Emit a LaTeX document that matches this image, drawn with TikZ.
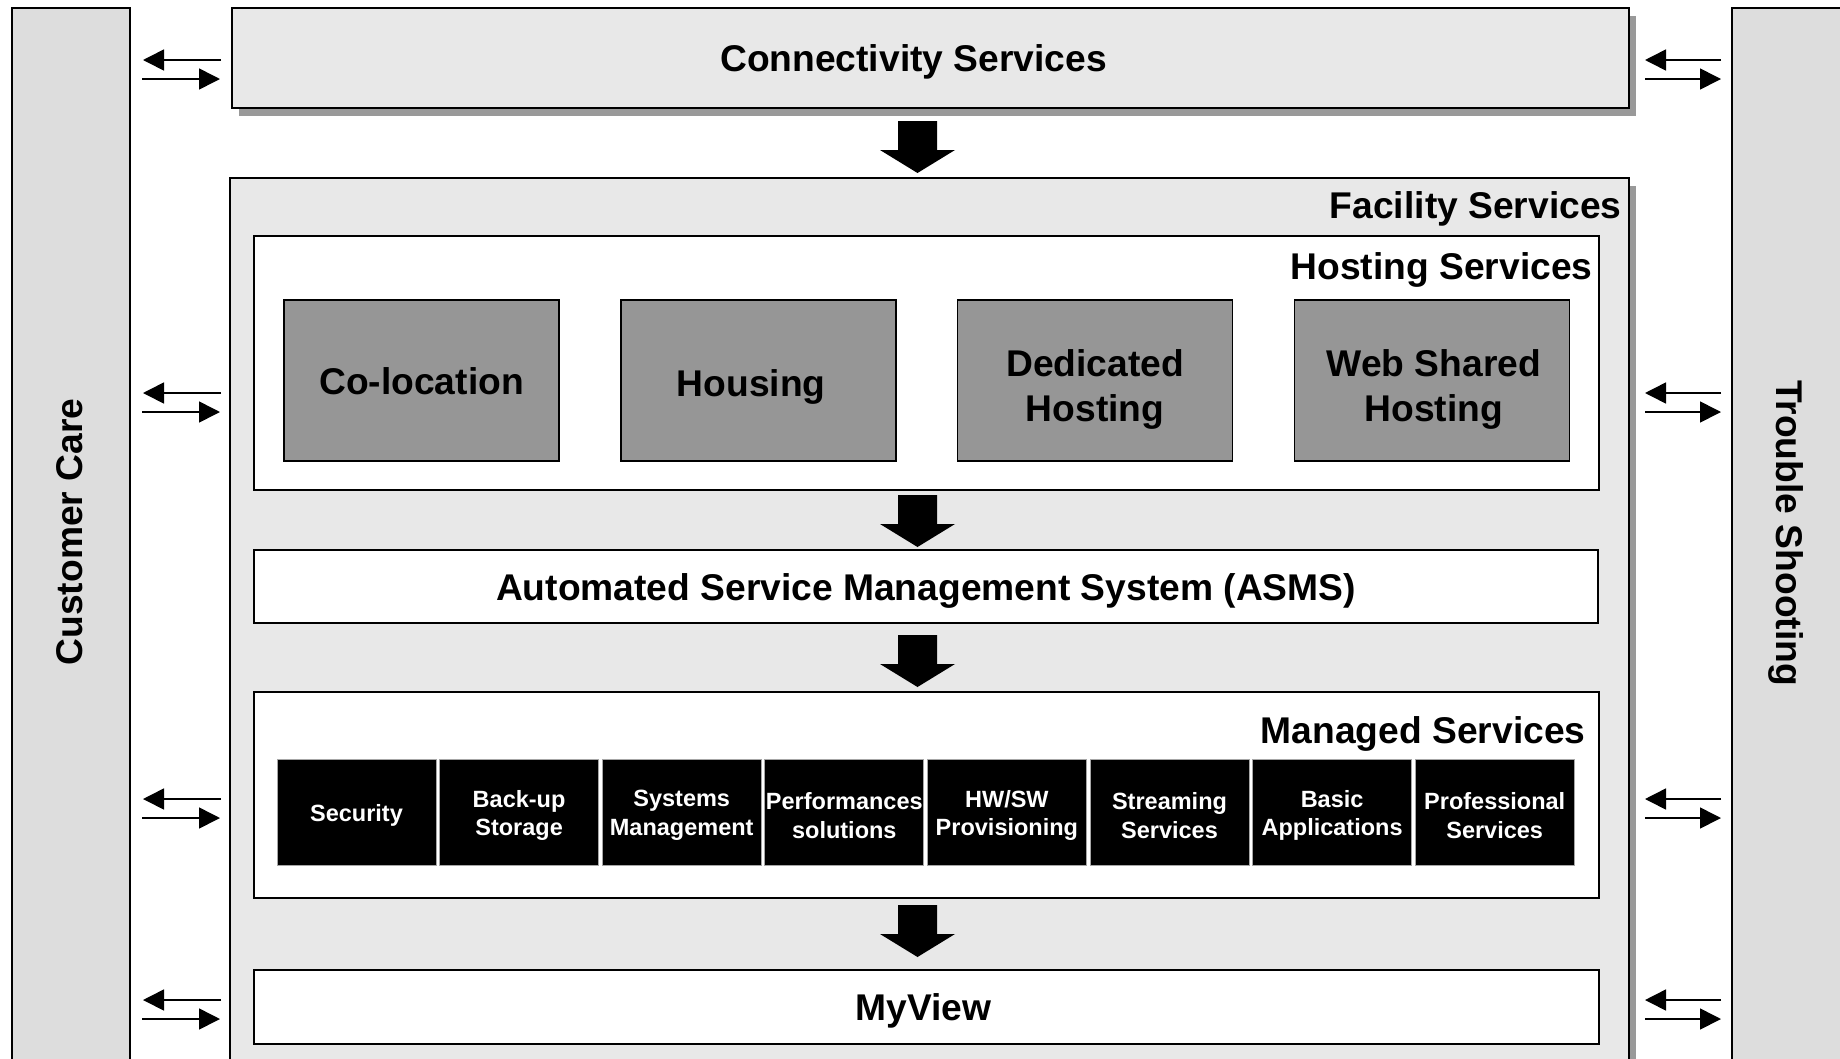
\documentclass[tikz,border=0pt]{standalone}
\usepackage{fontspec}
\setmainfont{Liberation Sans}
\usetikzlibrary{arrows.meta,shadows}
\definecolor{sidegray}{HTML}{DDDDDD}
\definecolor{panelgray}{HTML}{E8E8E8}
\definecolor{hostgray}{HTML}{969696}
\definecolor{shadegray}{HTML}{999999}

\begin{document}
\begin{tikzpicture}[x=1pt,y=-1pt,
    bigtext/.style={font=\fontsize{37.2}{44.5}\selectfont\bfseries, align=center},
    smalltext/.style={font=\fontsize{23.5}{28.5}\selectfont\bfseries, align=center},
    sidebar/.style={draw, line width=1.6pt, fill=sidegray, inner sep=0pt},
    panel/.style={draw, line width=1.6pt, fill=panelgray, inner sep=0pt,
        drop shadow={shadow xshift=7pt, shadow yshift=-8pt, fill=shadegray, opacity=1}},
    whitebox/.style={draw, line width=1.6pt, fill=white, inner sep=0pt},
    hostbox/.style={draw, line width=1.4pt, fill=hostgray,
        minimum width=275, minimum height=161, inner sep=0pt},
    mgdbox/.style={draw=gray!70, line width=0.8pt, fill=black,
        minimum width=159, minimum height=106, inner sep=0pt},
    smallarrow/.style={line width=1.6pt, -{Triangle[length=21pt,width=21pt]}}]
    \clip (0,0) rectangle (1840,1058);

    % side bars
    \node[sidebar, minimum width=118, minimum height=1062] (custcare) at (71,539) {};
    \node[bigtext, rotate=90] at (70,532) {Customer Care};
    \node[sidebar, minimum width=118, minimum height=1062] (trouble) at (1791,539) {};
    \node[bigtext, rotate=-90] at (1786,533) {Trouble Shooting};

    % Connectivity
    \node[panel, minimum width=1397, minimum height=100] (conn) at (930.5,58) {};
    \node[bigtext] at ([xshift=-17pt, yshift=-4pt]conn.center) {Connectivity Services};

    % Facility frame
    \node[panel, minimum width=1399, minimum height=897] (facility) at (929.5,626.5) {};
    \node[bigtext, anchor=base east] at (1625,218.5) {Facility Services};

    % Hosting
    \node[whitebox, minimum width=1345, minimum height=254] (hosting) at (926.5,363) {};
    \node[bigtext, anchor=base east] at (1596,279.5) {Hosting Services};
    \foreach \name/\txt/\dx/\dy [count=\i from 0] in {colocation/Co-location/0/-1,
        housing/Housing/-7/-6, dedicated/{Dedicated\\Hosting}/0/-9,
        webshared/{Web Shared\\Hosting}/2/-9} {
        \node[hostbox] (\name) at (421.5+\i*336.8,380.5) {};
        \node[bigtext] at ([xshift=\dx pt, yshift=\dy pt]\name.center) {\txt};
    }

    % ASMS
    \node[whitebox, minimum width=1344, minimum height=73] (asms) at (926,586.5) {};
    \node[bigtext] at ([yshift=-4.5pt]asms.center) {Automated Service Management System (ASMS)};

    % Managed
    \node[whitebox, minimum width=1345, minimum height=206] (managed) at (926.5,795) {};
    \node[bigtext, anchor=base east] at (1589,743) {Managed Services};
    \foreach \name/\txt [count=\i from 0] in {security/Security, backup/{Back-up\\Storage},
        sysmgmt/{Systems\\Management}, perf/{Performances\\solutions},
        hwsw/{HW/SW\\Provisioning}, streaming/{Streaming\\Services},
        basicapp/{Basic\\Applications}, profserv/{Professional\\Services}} {
        \node[mgdbox] (\name) at (356.5+\i*162.6,812) {};
        \node[smalltext, text=white] at ([yshift=-3.5pt]\name.center) {\txt};
    }

    % MyView
    \node[whitebox, minimum width=1345, minimum height=74] (myview) at (926.5,1007) {};
    \node[bigtext] at ([xshift=-3pt, yshift=-3.5pt]myview.center) {MyView};

    % block arrows
    \foreach \y in {121,495,635,905}
        \fill (898,\y) -- (937,\y) -- (937,\y+29) -- (955,\y+29) -- (917.5,\y+52)
            -- (880,\y+29) -- (898,\y+29) -- cycle;

    % arrows to the side bars
    \foreach \y in {60,393,799,1000} {
        \draw[smallarrow] (221,\y) -- (143,\y);
        \draw[smallarrow] (142,\y+19) -- (220,\y+19);
        \draw[smallarrow] (1721,\y) -- (1645,\y);
        \draw[smallarrow] (1645,\y+19) -- (1721,\y+19);
    }
\end{tikzpicture}
\end{document}
